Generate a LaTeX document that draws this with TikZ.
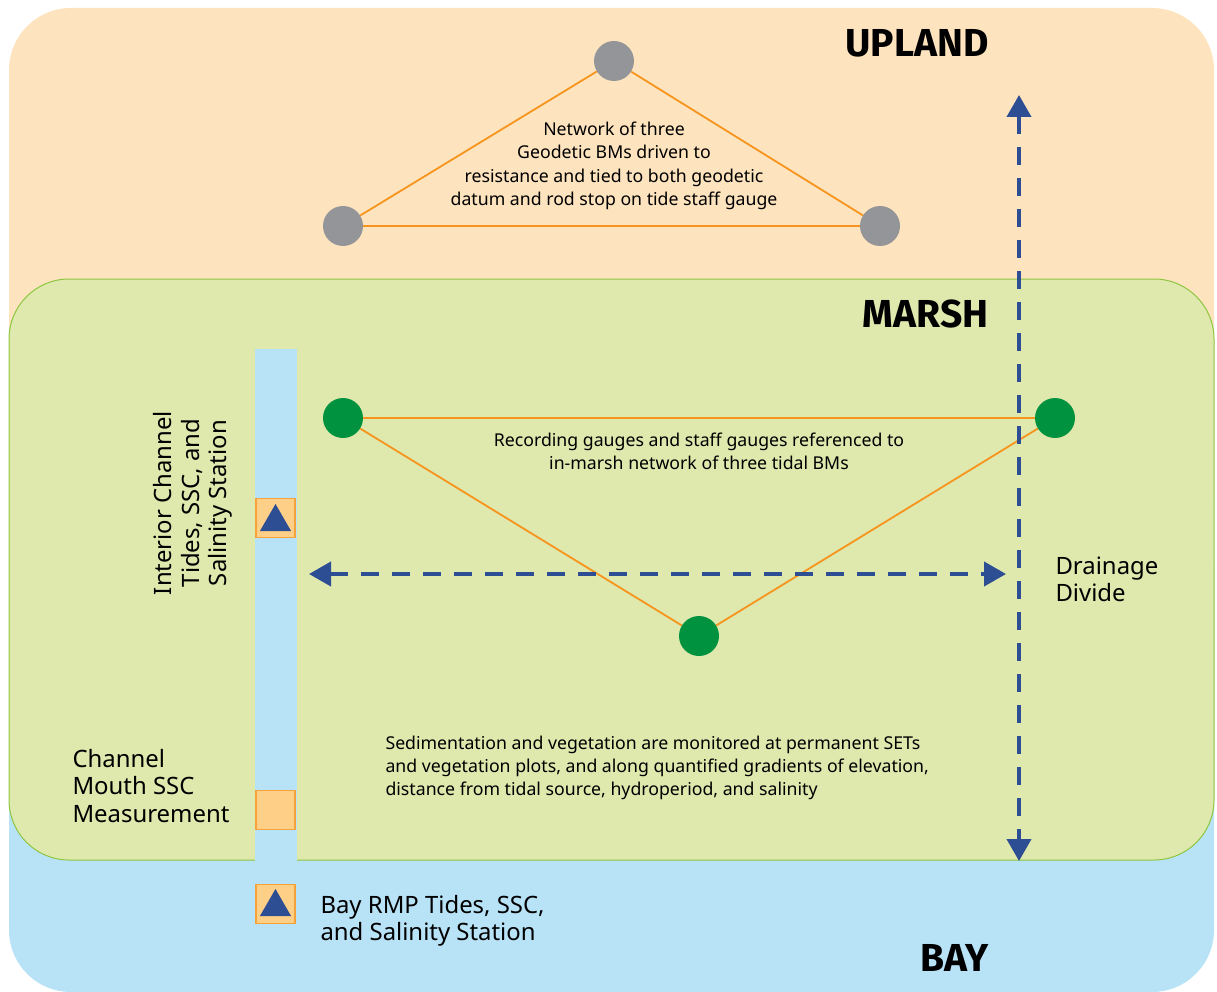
\documentclass[tikz,border=0pt]{standalone}
\usepackage{fontspec}
\setmainfont{Noto Sans}
\newfontfamily\headfont{Fira Sans}
\usetikzlibrary{arrows.meta,shapes.geometric}
\definecolor{upl}{HTML}{FEE4BE}
\definecolor{msh}{HTML}{DFE8AD}
\definecolor{mshb}{HTML}{8DC63F}
\definecolor{bay}{HTML}{B8E3F7}
\definecolor{sqf}{HTML}{FECF86}
\definecolor{sqb}{HTML}{F7A13A}
\definecolor{tri}{HTML}{2E4E94}
\definecolor{gry}{HTML}{939598}
\definecolor{grn}{HTML}{00923F}
\definecolor{org}{HTML}{F7941D}
\tikzset{
  gbm/.style={circle,fill=gry,minimum size=40pt,inner sep=0pt},
  tbm/.style={circle,fill=grn,minimum size=40pt,inner sep=0pt},
  link/.style={org,line width=1.8pt},
  sq/.style={fill=sqf,draw=sqb,line width=1.2pt,minimum size=39pt,inner sep=0pt},
  trimark/.style={fill=tri,draw=none,regular polygon,regular polygon sides=3,minimum size=36pt,inner sep=0pt},
  divide/.style={tri,line width=4pt,dash pattern=on 18pt off 13pt,
     {Triangle[length=22pt,width=24pt]}-{Triangle[length=22pt,width=24pt]}},
  head/.style={font=\headfont\fontsize{39}{43}\selectfont\bfseries},
  small/.style={font=\fontsize{17.7}{23.3}\selectfont,align=center},
  big/.style={font=\fontsize{23.9}{27.3}\selectfont,align=left},
}
\begin{document}
\begin{tikzpicture}[x=1pt,y=-1pt]
\useasboundingbox (0,0) rectangle (1217,992);
% zones
\fill[upl,rounded corners=62pt] (9,8) rectangle (1214,560);
\fill[bay,rounded corners=62pt] (9,500) rectangle (1214,992);
\filldraw[fill=msh,draw=mshb,line width=1pt,rounded corners=60pt] (9,279) rectangle (1214,860);
\fill[bay] (255,349) rectangle (297,861);
% headings
\node[head,anchor=east] (upland) at (992,43) {UPLAND};
\node[head,anchor=east] (marsh) at (992,314) {MARSH};
\node[head,anchor=east] (baylab) at (992,958) {BAY};
% geodetic BMs
\node[gbm] (g1) at (614,61) {};
\node[gbm] (g2) at (343,226) {};
\node[gbm] (g3) at (880,226) {};
\draw[link] (g1) -- (g2) (g2) -- (g3) (g3) -- (g1);
\node[small] (gtext) at (614,166) {Network of three\\Geodetic BMs driven to\\resistance and tied to both geodetic\\datum and rod stop on tide staff gauge};
% tidal BMs
\node[tbm] (t1) at (343,418) {};
\node[tbm] (t2) at (1055,418) {};
\node[tbm] (t3) at (699,636) {};
\draw[link] (t1) -- (t2) (t1) -- (t3) (t3) -- (t2);
\node[small] (ttext) at (699,451) {Recording gauges and staff gauges referenced to\\in-marsh network of three tidal BMs};
% drainage divide arrows
\coordinate (hl) at (309,574);
\coordinate (hr) at (1006,574);
\coordinate (vt) at (1019,95);
\coordinate (vb) at (1019,861);
\draw[divide] (hl) -- (hr);
\draw[divide] (vt) -- (vb);
\node[big,anchor=west] (dd) at (1052,579) {Drainage\\Divide};
% stations
\node[sq] (s1) at (275.5,518) {};
\node[trimark] (s1t) at (275.5,522) {};
\node[sq] (s2) at (275.5,810) {};
\node[sq] (s3) at (275.5,904) {};
\node[trimark] (s3t) at (275.5,907) {};
\node[big,rotate=90,align=center] (ic) at (193,503) {Interior Channel\\Tides, SSC, and\\Salinity Station};
\node[big,anchor=west] (cm) at (69,786) {Channel\\Mouth SSC\\Measurement};
\node[big,anchor=west] (bs) at (317,921) {Bay RMP Tides, SSC,\\and Salinity Station};
\node[small,align=left,anchor=west] (sed) at (382,768) {Sedimentation and vegetation are monitored at permanent SETs\\and vegetation plots, and along quantified gradients of elevation,\\distance from tidal source, hydroperiod, and salinity};
\end{tikzpicture}
\end{document}
